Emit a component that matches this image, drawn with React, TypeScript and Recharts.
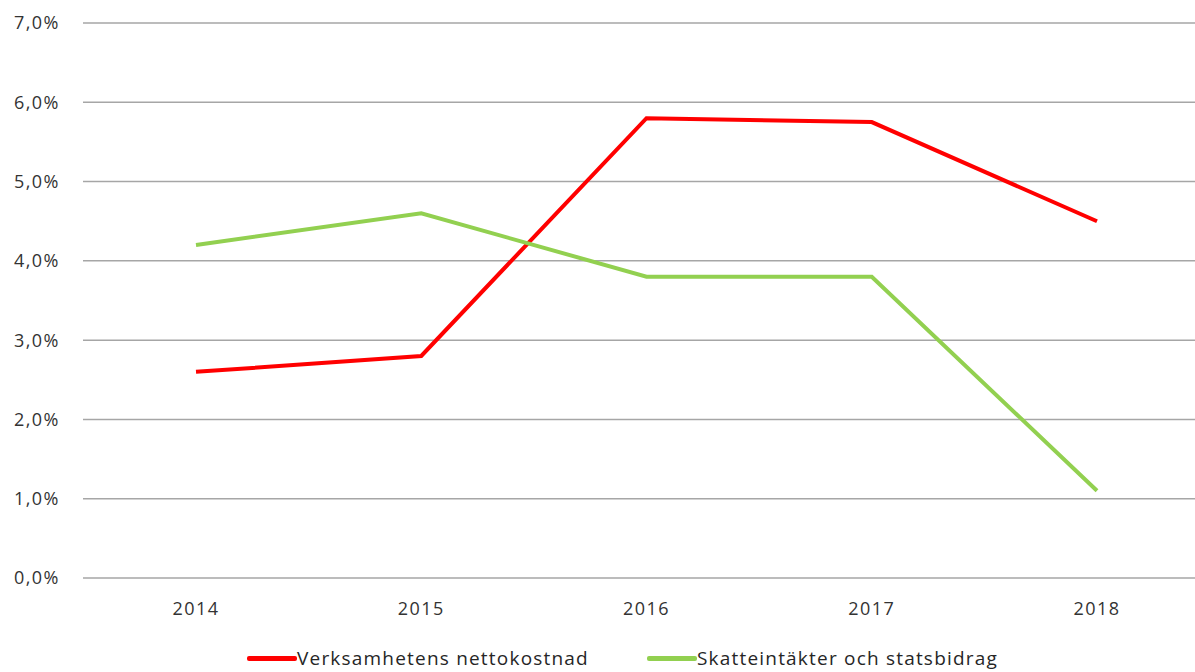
import { LineChart, Line, XAxis, YAxis, CartesianGrid } from 'recharts';

const years = ['2014', '2015', '2016', '2017', '2018'];
const nettokostnad = [2.6, 2.8, 5.8, 5.75, 4.5];
const skatteintakter = [4.2, 4.6, 3.8, 3.8, 1.1];
const yTicks = [0, 1, 2, 3, 4, 5, 6, 7];

const SERIES = [
  { key: 'nettokostnad', name: 'Verksamhetens nettokostnad', color: '#ff0000' },
  { key: 'skatteintakter', name: 'Skatteintäkter och statsbidrag', color: '#92d050' },
];

const data = years.map((year, i) => ({
  year,
  nettokostnad: nettokostnad[i],
  skatteintakter: skatteintakter[i],
}));

const FONT = '"Open Sans", "Noto Sans", sans-serif';
const tickStyle = { fill: '#333333', fontSize: 18, fontFamily: FONT, letterSpacing: 1.5 };

const fmtPct = (v: number) => `${v.toFixed(1).replace('.', ',')}%`;

export default function App() {
  return (
    <div
      style={{
        position: 'absolute',
        left: 0,
        top: 0,
        width: 1195,
        height: 672,
        overflow: 'hidden',
        background: '#fff',
      }}
    >
      <LineChart
        width={1215}
        height={620}
        data={data}
        margin={{ top: 23, right: 5, left: 0, bottom: 0 }}
      >
        <CartesianGrid vertical={false} stroke="#a6a6a6" strokeWidth={1.5} />
        <XAxis
          dataKey="year"
          axisLine={false}
          tickLine={false}
          tickSize={0}
          tickMargin={24}
          height={42}
          padding={{ left: 113, right: 113 }}
          tick={tickStyle}
        />
        <YAxis
          domain={[0, 7]}
          ticks={yTicks}
          tickFormatter={fmtPct}
          axisLine={false}
          tickLine={false}
          tickSize={0}
          tickMargin={23}
          width={83}
          tick={tickStyle}
        />
        {SERIES.map((s) => (
          <Line
            key={s.key}
            dataKey={s.key}
            name={s.name}
            stroke={s.color}
            strokeWidth={4}
            dot={false}
            type="linear"
            isAnimationActive={false}
          />
        ))}
      </LineChart>

      {/* legend at the bottom edge */}
      <div
        style={{
          position: 'absolute',
          top: 646,
          left: 247,
          display: 'flex',
          alignItems: 'center',
          fontFamily: FONT,
          fontSize: 19,
          letterSpacing: 1.2,
          color: '#262626',
          whiteSpace: 'nowrap',
        }}
      >
        {SERIES.map((s, i) => (
          <div
            key={s.key}
            style={{ display: 'flex', alignItems: 'center', marginLeft: i === 0 ? 0 : 58 }}
          >
            <span
              style={{
                display: 'inline-block',
                width: 50,
                height: 5,
                borderRadius: 2,
                background: s.color,
              }}
            />
            <span style={{ lineHeight: '24px' }}>{s.name}</span>
          </div>
        ))}
      </div>
    </div>
  );
}
